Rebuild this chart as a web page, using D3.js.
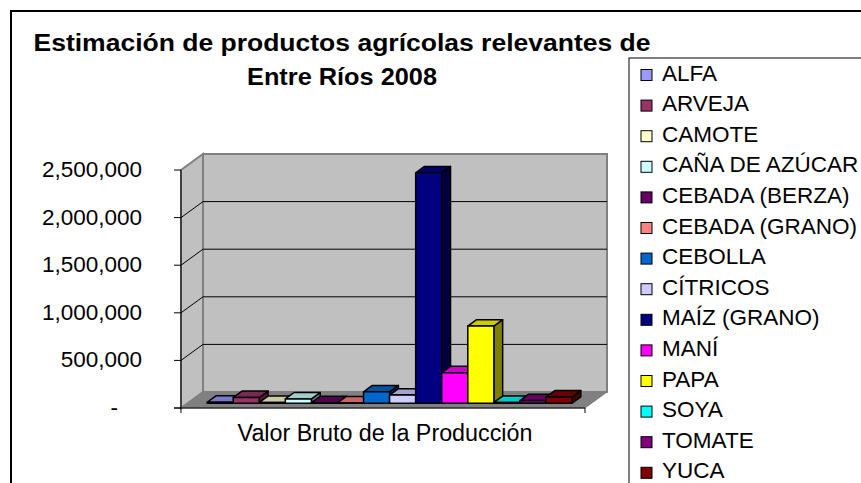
<!DOCTYPE html>
<html>
<head>
<meta charset="utf-8">
<script src="https://cdn.jsdelivr.net/npm/d3@7"></script>
<style>
  body { margin: 0; background: #fff; }
  text { font-family: Arial, "Liberation Sans", sans-serif; fill: #000; }
</style>
</head>
<body>
<svg id="chart" width="861" height="483"></svg>
<script>
// data
var titleLines = ["Estimación de productos agrícolas relevantes de", "Entre Ríos 2008"];
var category = "Valor Bruto de la Producción";
var crops = ["ALFA", "ARVEJA", "CAMOTE", "CAÑA DE AZÚCAR", "CEBADA (BERZA)", "CEBADA (GRANO)",
    "CEBOLLA", "CÍTRICOS", "MAÍZ (GRANO)", "MANÍ", "PAPA", "SOYA", "TOMATE", "YUCA"];
var values = [10000, 60000, 8000, 45000, 5000, 3000, 120000, 85000, 2420000, 320000, 810000, 8000, 28000, 65000];
var colors = ["#9999FF", "#993366", "#FFFFCC", "#CCFFFF", "#660066", "#FF8080", "#0066CC",
    "#CCCCFF", "#000080", "#FF00FF", "#FFFF00", "#00FFFF", "#800080", "#800000"];
var yTicks = [0, 500000, 1000000, 1500000, 2000000, 2500000];

var svg = d3.select("#chart");

// outer chart border
svg.append("rect")
    .attr("x", 11).attr("y", 11)
    .attr("width", 900).attr("height", 500)
    .attr("fill", "none")
    .attr("stroke", "black")
    .attr("stroke-width", 2);

// title
titleLines.forEach(function (line, i) {
    svg.append("text")
        .text(line)
        .attr("x", 342)
        .attr("y", 51 + i * 34)
        .attr("text-anchor", "middle")
        .attr("font-size", 23)
        .attr("font-weight", "bold")
        .attr("textLength", i == 0 ? 617 : 190)
        .attr("lengthAdjust", "spacingAndGlyphs");
});

// plot geometry: front plane + depth offset
var front = {left: 181, right: 585, bottom: 408, top: 170};
var DX = 22, DY = -16;

var y = d3.scaleLinear().domain([0, 2500000]).range([front.bottom, front.top]);
var x = d3.scaleBand().domain(crops).range([front.left, front.right]).paddingInner(0).paddingOuter(0.75);

function P(px, v, d) {
    return [px + DX * d, y(v) + DY * d];
}
function poly(points) {
    return points.map(function (p) { return p.join(","); }).join(" ");
}

var maxV = y.domain()[1];

// back wall
svg.append("polygon")
    .attr("points", poly([P(front.left, 0, 1), P(front.right, 0, 1), P(front.right, maxV, 1), P(front.left, maxV, 1)]))
    .attr("fill", "#C0C0C0")
    .attr("stroke", "#808080")
    .attr("stroke-width", 2);

// side wall
svg.append("polygon")
    .attr("points", poly([P(front.left, 0, 0), P(front.left, 0, 1), P(front.left, maxV, 1), P(front.left, maxV, 0)]))
    .attr("fill", "#C0C0C0")
    .attr("stroke", "#808080")
    .attr("stroke-width", 2);

// floor
svg.append("polygon")
    .attr("points", poly([P(front.left, 0, 0), P(front.right, 0, 0), P(front.right, 0, 1), P(front.left, 0, 1)]))
    .attr("fill", "#808080")
    .attr("stroke", "#808080")
    .attr("stroke-width", 1);

// gridlines on side and back walls
yTicks.filter(function (t) { return t > 0 && t < maxV; }).forEach(function (t) {
    svg.append("polyline")
        .attr("points", poly([P(front.left, t, 0), P(front.left, t, 1), P(front.right, t, 1)]))
        .attr("fill", "none")
        .attr("stroke", "black")
        .attr("stroke-width", 1);
});

// bars
var d0 = 0.3, d1 = 0.7;
var bw = x.bandwidth();
crops.forEach(function (name, i) {
    var x0 = x(name), x1 = x0 + bw, v = values[i];
    var c = d3.color(colors[i]);
    var g = svg.append("g")
        .attr("stroke", "black")
        .attr("stroke-width", 1.5)
        .attr("stroke-linejoin", "round");
    g.append("polygon")
        .attr("points", poly([P(x1, 0, d0), P(x1, 0, d1), P(x1, v, d1), P(x1, v, d0)]))
        .attr("fill", d3.rgb(c.r * 0.5, c.g * 0.5, c.b * 0.5));
    g.append("polygon")
        .attr("points", poly([P(x0, v, d0), P(x1, v, d0), P(x1, v, d1), P(x0, v, d1)]))
        .attr("fill", d3.rgb(c.r * 0.8, c.g * 0.8, c.b * 0.8));
    g.append("polygon")
        .attr("points", poly([P(x0, 0, d0), P(x1, 0, d0), P(x1, v, d0), P(x0, v, d0)]))
        .attr("fill", colors[i]);
});

// value axis on the front plane
svg.append("line")
    .attr("x1", front.left).attr("x2", front.left)
    .attr("y1", front.top).attr("y2", front.bottom + 5)
    .attr("stroke", "black");
svg.append("line")
    .attr("x1", front.left - 7).attr("x2", front.right)
    .attr("y1", front.bottom).attr("y2", front.bottom)
    .attr("stroke", "black");
svg.append("line")
    .attr("x1", front.right).attr("x2", front.right)
    .attr("y1", front.bottom).attr("y2", front.bottom + 5)
    .attr("stroke", "black");

var fmt = d3.format(",");
yTicks.forEach(function (t) {
    svg.append("line")
        .attr("x1", front.left - 7).attr("x2", front.left)
        .attr("y1", y(t)).attr("y2", y(t))
        .attr("stroke", "black");
    svg.append("text")
        .text(t == 0 ? "-" : fmt(t))
        .attr("x", t == 0 ? 118 : 142)
        .attr("y", y(t) + 7)
        .attr("text-anchor", "end")
        .attr("font-size", 22.5);
});

// category label
svg.append("text")
    .text(category)
    .attr("x", (front.left + front.right) / 2 + 2)
    .attr("y", 441)
    .attr("text-anchor", "middle")
    .attr("font-size", 23.3);

// legend
svg.append("rect")
    .attr("x", 629).attr("y", 58)
    .attr("width", 300).attr("height", 500)
    .attr("fill", "white")
    .attr("stroke", "black")
    .attr("stroke-width", 1);

var rowH = 30.6;
crops.forEach(function (name, i) {
    var cy = 75 + i * rowH;
    svg.append("rect")
        .attr("x", 641).attr("y", cy - 5.5)
        .attr("width", 11).attr("height", 11)
        .attr("fill", colors[i])
        .attr("stroke", "black")
        .attr("stroke-width", 1);
    svg.append("text")
        .text(name)
        .attr("x", 662)
        .attr("y", cy + 5.5)
        .attr("font-size", 22.5);
});
</script>
</body>
</html>
